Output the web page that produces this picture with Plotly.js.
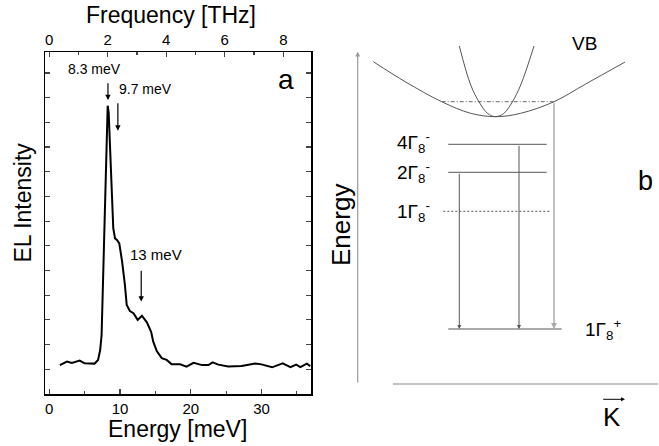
<!DOCTYPE html>
<html><head><meta charset="utf-8">
<script src="https://cdn.plot.ly/plotly-3.0.1.min.js"></script>
<style>html,body{margin:0;padding:0;background:#fff}#chart{width:659px;height:446px}</style>
</head><body><div id="chart"></div>
<script>
// ---- Panel a: EL spectrum ----
const energyMeV = [1.5,2.5,3.2,3.8,4.3,5.0,5.8,6.4,6.9,7.2,7.4,7.6,7.8,8.0,8.26,8.4,8.7,9.05,9.3,9.6,9.9,10.3,10.7,10.95,11.4,11.9,12.5,13.1,13.8,14.4,14.7,15.2,15.9,16.6,17.3,18.5,19.4,20.4,21.6,22.5,23.1,23.9,25.3,27.2,29.1,30.0,31.5,33.0,34.1,34.9,35.5,36.4,36.9];
const elIntensity = [1.17,1.31,1.26,1.30,1.35,1.24,1.23,1.23,1.38,1.78,2.39,4.41,6.03,9.07,11.67,11.4,9.07,6.71,6.30,6.23,6.10,5.36,4.41,3.60,3.36,3.27,3.00,3.17,2.90,2.52,2.12,1.74,1.45,1.38,1.20,1.20,1.11,1.26,1.17,1.17,1.28,1.19,1.11,1.13,1.23,1.20,1.08,1.24,1.09,1.19,1.09,1.23,1.13];
const MEV_PER_THZ = 4.1357;
const energyRange = [-0.6, 37];
const peakLabels = ['8.3 meV','9.7 meV','13 meV'];
const peakEnergies = [8.3, 9.7, 13];

// ---- Panel b: band / level scheme (schematic units) ----
const wideBandK = [-122.4,-90,-54,-25,0,25,58.3,90,129.3];
const wideBandE = [267.3,247,227.3,215.7,212.3,215.7,227.3,245,267];
const narrowBandK = [-36.4,-25,-16,-8,0,8,16,25,38.3];
const narrowBandE = [283,244,226,215.5,212.3,215.5,226,244,283];
const levelNames = ['1Γ<sub>8</sub><sup>+</sup>','1Γ<sub>8</sub><sup>-</sup>','2Γ<sub>8</sub><sup>-</sup>','4Γ<sub>8</sub><sup>-</sup>'];
const levelE = [0,117.7,156.7,184.7];
const levelKStart = [-47.4,-52.4,-47.4,-47.4];
const levelKEnd = [66,54.3,51,51];
const vbFillE = 227.3, vbFillKStart = -54, vbFillKEnd = 58.3;
const transitionK = [-36.4,23.3,58.3];
const transitionFromE = [156.7,184.7,227.3];

const FONT = 'Liberation Sans, Arial, sans-serif';
const W = 659, H = 446;
const px = v => v / W, py = v => 1 - v / H;
const C = {xanchor:'center', yanchor:'middle', showarrow:false};

const traces = [];
traces.push({x: energyMeV, y: elIntensity, xaxis:'x', yaxis:'y', mode:'lines',
  line:{color:'#000', width:2}, hoverinfo:'skip', showlegend:false});
traces.push({x: [], y: [], xaxis:'x3', yaxis:'y', mode:'lines', showlegend:false, hoverinfo:'skip'});

traces.push({x: wideBandK, y: wideBandE, xaxis:'x2', yaxis:'y2', mode:'lines',
  line:{color:'#555', width:1, shape:'spline', smoothing:1}, showlegend:false, hoverinfo:'skip'});
traces.push({x: narrowBandK, y: narrowBandE, xaxis:'x2', yaxis:'y2', mode:'lines',
  line:{color:'#555', width:1, shape:'spline', smoothing:1}, showlegend:false, hoverinfo:'skip'});
traces.push({x: [vbFillKStart, vbFillKEnd], y: [vbFillE, vbFillE], xaxis:'x2', yaxis:'y2', mode:'lines',
  line:{color:'#666', width:1, dash:'4px,2px,1px,2px'}, showlegend:false, hoverinfo:'skip'});
levelE.forEach((e,i) => {
  traces.push({x:[levelKStart[i], levelKEnd[i]], y:[e,e], xaxis:'x2', yaxis:'y2', mode:'lines',
    line:{color:'#555', width:1, dash: i===1 ? '2px,2px' : 'solid'}, showlegend:false, hoverinfo:'skip'});
});
// K axis
traces.push({x:[-102.7,162.3], y:[-55,-55], xaxis:'x2', yaxis:'y2', mode:'lines',
  line:{color:'#888', width:1.2}, showlegend:false, hoverinfo:'skip'});

const ann = [];
// axis titles
ann.push(Object.assign({text:'Frequency [THz]', x:px(170.5), y:py(15), xref:'paper', yref:'paper', font:{size:23, family:FONT, color:'#000'}}, C));
ann.push(Object.assign({text:'Energy [meV]', x:px(178), y:py(429), xref:'paper', yref:'paper', font:{size:23, family:FONT, color:'#000'}}, C));
ann.push(Object.assign({text:'EL Intensity', x:px(22.5), y:py(203), xref:'paper', yref:'paper', textangle:-90, font:{size:23, family:FONT, color:'#000'}}, C));
ann.push(Object.assign({text:'a', x:33.45, y:12.75, xref:'x', yref:'y', font:{size:28, family:FONT, color:'#000'}}, C));
// peak labels & arrows
const labelPos = [[6.42,13.15],[13.54,12.34],[15.13,5.63]];
const arrowY = [[12.64,11.90],[11.83,10.66],[5.05,3.74]];
const labelSize = [14,14,15];
peakLabels.forEach((t,i) => {
  ann.push(Object.assign({text:t, x:labelPos[i][0], y:labelPos[i][1], xref:'x', yref:'y', font:{size:labelSize[i], family:FONT, color:'#000'}}, C));
  ann.push({text:'', x:peakEnergies[i], y:arrowY[i][1], ax:peakEnergies[i], ay:arrowY[i][0], xref:'x', yref:'y', axref:'x', ayref:'y',
    showarrow:true, arrowhead:2, arrowsize:0.9, arrowwidth:1.2, arrowcolor:'#000'});
});

// panel b texts
ann.push(Object.assign({text:'VB', x:89, y:285.7, xref:'x2', yref:'y2', font:{size:19, family:FONT, color:'#000'}}, C));
ann.push(Object.assign({text:'b', x:150.1, y:148, xref:'x2', yref:'y2', font:{size:27, family:FONT, color:'#000'}}, C));
ann.push(Object.assign({text:'Energy', x:px(341), y:py(225), xref:'paper', yref:'paper', textangle:-90, font:{size:26, family:FONT, color:'#000'}}, C));
ann.push(Object.assign({text:'K', x:116, y:-87.7, xref:'x2', yref:'y2', font:{size:26, family:FONT, color:'#000'}}, C));
ann.push({text:'', x:129.3, y:-70.3, ax:106, ay:-70.3, xref:'x2', yref:'y2', axref:'x2', ayref:'y2',
  showarrow:true, arrowhead:2, arrowsize:0.8, arrowwidth:1, arrowcolor:'#000'});
// energy axis
ann.push({text:'', x:-138, y:277.3, ax:-138, ay:-55, xref:'x2', yref:'y2', axref:'x2', ayref:'y2',
  showarrow:true, arrowhead:2, arrowsize:0.8, arrowwidth:1.2, arrowcolor:'#999'});
// level labels
levelNames.forEach((t,i) => {
  if (i === 0) {
    ann.push({text:t, x:87.6, y:levelE[i], xref:'x2', yref:'y2', xanchor:'left', yanchor:'middle', showarrow:false, font:{size:19, family:FONT, color:'#000'}});
  } else {
    ann.push({text:t, x:-64, y:levelE[i] + (i===3 ? 2 : 0), xref:'x2', yref:'y2', xanchor:'right', yanchor:'middle', showarrow:false, font:{size:19, family:FONT, color:'#000'}});
  }
});
// transitions
transitionK.forEach((k,i) => {
  ann.push({text:'', x:k, y:levelE[0], ax:k, ay:transitionFromE[i], xref:'x2', yref:'y2', axref:'x2', ayref:'y2',
    showarrow:true, arrowhead:2, arrowsize:0.8, arrowwidth: i===2 ? 1.5 : 1, arrowcolor: i===2 ? '#aaa' : '#555'});
});

const layout = {
  width: W, height: H, margin:{l:0, r:0, t:0, b:0}, paper_bgcolor:'#fff', plot_bgcolor:'rgba(0,0,0,0)',
  font:{family:FONT, color:'#000'}, showlegend:false,
  xaxis:{domain:[px(45), px(311)], range:energyRange, anchor:'y', dtick:10, tick0:0, ticks:'inside', ticklen:5, tickwidth:1.2,
    minor:{dtick:5, ticks:'inside', ticklen:3, tickwidth:1.2}, showline:true, linecolor:'#000', linewidth:1.5, showgrid:false, zeroline:false,
    tickfont:{size:15, family:FONT, color:'#000'}, ticklabelstandoff:0},
  xaxis3:{overlaying:'x', side:'top', anchor:'y', domain:[px(45), px(311)], range:[energyRange[0]/MEV_PER_THZ, energyRange[1]/MEV_PER_THZ],
    dtick:2, tick0:0, ticks:'inside', ticklen:5, tickwidth:1.2, minor:{dtick:1, ticks:'inside', ticklen:3, tickwidth:1.2},
    showline:true, linecolor:'#000', linewidth:1.5, showgrid:false, zeroline:false, tickfont:{size:15, family:FONT, color:'#000'}},
  yaxis:{domain:[py(394), py(52)], range:[0, 13.846], anchor:'x', dtick:1, tick0:0, ticks:'inside', ticklen:5, tickwidth:1.2,
    showticklabels:false, showline:true, mirror:'ticks', linecolor:'#000', linewidth:1.5, showgrid:false, zeroline:false},
  xaxis2:{domain:[px(330), 1], range:[330-495.7, 659-495.7], anchor:'y2', visible:false},
  yaxis2:{domain:[0, 1], range:[329-446, 329], anchor:'x2', visible:false},
  annotations: ann
};
Plotly.newPlot('chart', traces, layout, {staticPlot:true, displayModeBar:false});
</script>
</body></html>
